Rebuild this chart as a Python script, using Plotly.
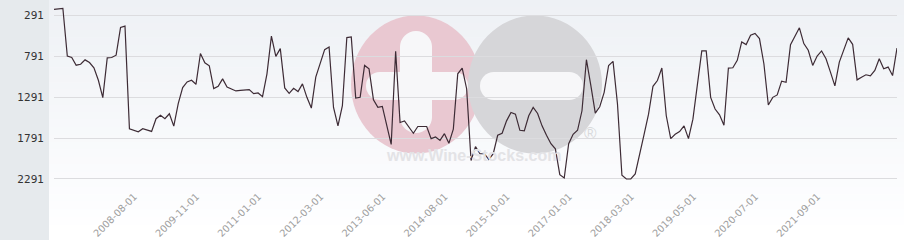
import pandas as pd
import plotly.graph_objects as go

# ---- data ----
all_months = pd.date_range("2007-01-01", "2023-02-01", freq="MS")
missing_months = ["2009-02-01", "2012-12-01", "2016-06-01"]
dates = [d.strftime("%Y-%m-%d") for d in all_months if d.strftime("%Y-%m-%d") not in missing_months]

ranks = [
    222, 215, 209, 791, 809, 903, 891, 838, 870, 936, 1087,
    1299, 813, 809, 781, 442, 426, 1678, 1699, 1715, 1678,
    1690, 1711, 1556, 1515, 1556, 1495, 1646, 1372, 1176, 1107,
    1087, 1136, 760, 874, 911, 1189, 1160, 1070, 1168, 1189,
    1217, 1209, 1209, 1201, 1250, 1242, 1287, 1008, 549, 795,
    701, 1180, 1246, 1184, 1225, 1131, 1295, 1426, 1049, 865,
    713, 680, 1418, 1643, 1397, 566, 557, 1303, 1295, 906,
    947, 1324, 1418, 1406, 1643, 1869, 734, 1602, 1582, 1651,
    1733, 1651, 1651, 1651, 1799, 1779, 1820, 1738, 1856, 1684,
    1008, 938, 1190, 2065, 1897, 1983, 1983, 2053, 1983, 1758,
    1733, 1582, 1479, 1500, 1697, 1705, 1520, 1418, 1492, 1643,
    1758, 1861, 1922, 2238, 2279, 1861, 1746, 1697, 1459, 836,
    1152, 1488, 1410, 1234, 906, 857, 1377, 2246, 2291, 2291,
    2229, 1971, 1746, 1500, 1160, 1090, 938, 1520, 1799, 1746,
    1713, 1643, 1799, 1561, 1131, 729, 729, 1295, 1438, 1508,
    1635, 938, 934, 844, 619, 652, 537, 516, 578, 885,
    1389, 1295, 1266, 1098, 1111, 652, 549, 447, 639, 721,
    906, 791, 729, 824, 988, 1156, 865, 721, 570, 648,
    1082, 1049, 1020, 1033, 967, 824, 947, 926, 1029, 693,
]

y_ticks = [291, 791, 1291, 1791, 2291]
x_tick_labels = ["2008-08-01", "2009-11-01", "2011-01-01", "2012-03-01", "2013-06-01",
                 "2014-08-01", "2015-10-01", "2017-01-01", "2018-03-01", "2019-05-01",
                 "2020-07-01", "2021-09-01"]

# ---- layout geometry (pixels) ----
W, H = 904, 240
L, R, T, B = 54, 7, 2, 52
PW, PH = W - L - R, H - T - B


def px(x):
    return (x - L) / PW


def py(y):
    return (H - B - y) / PH


shapes = []
# gradient background of plotting region
n_bands = 30
top_c = (238, 241, 245)
bot_c = (254, 254, 255)
g_top, g_bot = 0, 224
for k in range(n_bands):
    t = k / (n_bands - 1)
    c = tuple(round(top_c[j] + (bot_c[j] - top_c[j]) * t) for j in range(3))
    y0 = g_top + (g_bot - g_top) * k / n_bands
    y1 = g_top + (g_bot - g_top) * (k + 1) / n_bands
    shapes.append(dict(type="rect", xref="paper", yref="paper", layer="below",
                       x0=px(49), x1=px(W), y0=py(y1 + 0.5), y1=py(y0),
                       fillcolor="rgb(%d,%d,%d)" % c, line=dict(width=0)))
# left grey panel
shapes.append(dict(type="rect", xref="paper", yref="paper", layer="below",
                   x0=px(0), x1=px(49), y0=py(H), y1=py(0),
                   fillcolor="#e6eaed", line=dict(width=0)))


def circ(cx, cy, rx, ry, color):
    shapes.append(dict(type="circle", xref="paper", yref="paper", layer="below",
                       x0=px(cx - rx), x1=px(cx + rx), y0=py(cy + ry), y1=py(cy - ry),
                       fillcolor=color, line=dict(width=0)))


def rect(x0, x1, y0, y1, color):
    shapes.append(dict(type="rect", xref="paper", yref="paper", layer="below",
                       x0=px(x0), x1=px(x1), y0=py(y1), y1=py(y0),
                       fillcolor=color, line=dict(width=0)))


def hbar(x0, x1, yc, h, color):
    r = h / 2
    rect(x0 + r, x1 - r, yc - r, yc + r, color)
    circ(x0 + r, yc, r, r, color)
    circ(x1 - r, yc, r, r, color)


def vbar(xc, y0, y1, w, color):
    r = w / 2
    rect(xc - r, xc + r, y0 + r, y1 - r, color)
    circ(xc, y0 + r, r, r, color)
    circ(xc, y1 - r, r, r, color)


# watermark
circ(416, 84.5, 65, 69, "#e9c8d1")
circ(535, 84.5, 67, 69, "#d6d6d9")
wm_white = "#f7f7f9"
vbar(416, 31, 133, 32, wm_white)
hbar(366, 468, 86, 28, wm_white)
hbar(480, 583, 86, 28, wm_white)

annotations = [
    dict(xref="paper", yref="paper", x=px(473), y=py(166), text="<b>www.Wine-Stocks.com</b>",
         showarrow=False, font=dict(family="Liberation Sans", size=16, color="#e3e3e6")),
    dict(xref="paper", yref="paper", x=px(590), y=py(145), text="®",
         showarrow=False, font=dict(family="Liberation Sans", size=17, color="#d9d9dc")),
]

fig = go.Figure()
fig.add_trace(go.Scatter(x=dates, y=ranks, mode="lines",
                         line=dict(color="#3d2b35", width=1.2), hoverinfo="x+y"))

fig.update_layout(
    width=W, height=H,
    margin=dict(l=L, r=R, t=T, b=B, pad=0, autoexpand=False),
    paper_bgcolor="white",
    plot_bgcolor="rgba(0,0,0,0)",
    showlegend=False,
    shapes=shapes,
    annotations=annotations,
    xaxis=dict(type="category", range=[0, len(dates) - 1], automargin=False,
               tickmode="array", tickvals=x_tick_labels, ticktext=x_tick_labels,
               tickangle=-45, showgrid=False, zeroline=False, showline=False,
               ticks="", ticklabelshift=-4,
               tickfont=dict(family="DejaVu Sans", size=9.8, color="#a0a0a0")),
    yaxis=dict(range=[2401, 132], tickmode="array", tickvals=y_ticks, automargin=False,
               ticktext=[str(v) for v in y_ticks],
               showgrid=True, gridcolor="#dcdcdf", gridwidth=1, zeroline=False,
               showline=False, ticks="", ticklabelstandoff=9,
               tickfont=dict(family="DejaVu Sans", size=10.5, color="#333333")),
)

fig.write_html("out.html")
